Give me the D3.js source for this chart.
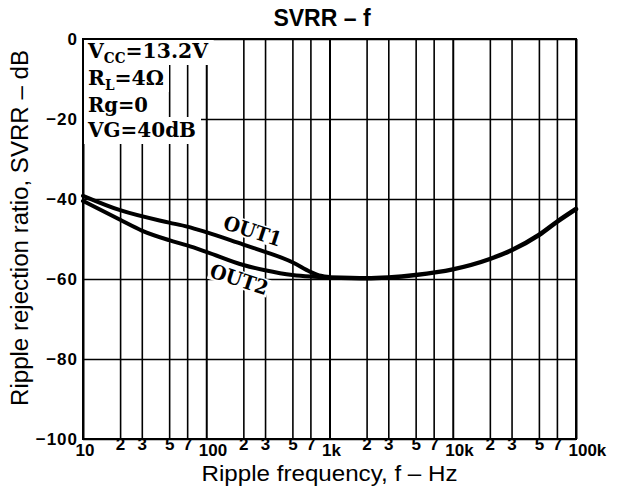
<!DOCTYPE html>
<html>
<head>
<meta charset="utf-8">
<script src="https://cdn.jsdelivr.net/npm/d3@7"></script>
<style>
body { margin: 0; background: #fff; }
svg { display: block; }
text { font-family: "Liberation Sans", Arial, Helvetica, sans-serif; fill: #000; }
.serif { font-family: "DejaVu Serif", "Liberation Serif", serif; font-weight: bold; }
</style>
</head>
<body>
<script>
// curves (Hz, dB)
var freqOut1 = [10, 20, 50, 70, 100, 200, 300, 500, 700, 850, 1000];
var svrrOut1 = [-39.2, -42.8, -45.9, -46.9, -48.3, -51.4, -53.2, -55.8, -58.2, -59.2, -59.5];
var freqOut2 = [10, 20, 30, 50, 70, 100, 200, 300, 500, 700, 1000];
var svrrOut2 = [-40.5, -45.2, -47.9, -50.3, -51.6, -53.2, -56.5, -57.8, -59, -59.4, -59.6];
var freqBoth = [1000, 2000, 3000, 5000, 10000, 20000, 30000, 50000, 70000, 100000];
var svrrBoth = [-59.6, -59.8, -59.6, -59, -57.6, -55, -52.8, -49, -45.7, -42.5];

var Y_TICKS = [0, -20, -40, -60, -80, -100];
var DECADES = [10, 100, 1000, 10000, 100000];
var DECADE_LABELS = ["10", "100", "1k", "10k", "100k"];
var MINOR = [2, 3, 5, 7];

var CONDITIONS = [
  { main: "V", sub: "CC", rest: "=13.2V" },
  { main: "R", sub: "L", rest: "=4Ω" },
  { main: "Rg=0", sub: "", rest: "" },
  { main: "VG=40dB", sub: "", rest: "" }
];
var CURVE_LABELS = ["OUT1", "OUT2"];

var margin = { top: 39, right: 42, bottom: 50, left: 83 };
var W = 618, H = 489;
var width = W - margin.left - margin.right;
var height = H - margin.top - margin.bottom;

var svg = d3.select("body").append("svg").attr("width", W).attr("height", H);
var g = svg.append("g").attr("transform", "translate(" + margin.left + "," + margin.top + ")");

var x = d3.scaleLog().domain([10, 100000]).range([0, width]);
var y = d3.scaleLinear().domain([-100, 0]).range([height, 0]);

// all vertical grid positions: decades plus 2,3,5,7 of each decade
var xTicks = [];
DECADES.forEach(function (d, i) {
  xTicks.push(d);
  if (i < DECADES.length - 1) MINOR.forEach(function (m) { xTicks.push(d * m); });
});

var xAxis = g.append("g").attr("transform", "translate(0," + height + ")")
  .call(d3.axisBottom(x).tickValues(xTicks).tickSize(-height).tickPadding(4).tickFormat(function (d) {
    var i = DECADES.indexOf(d);
    if (i >= 0) return DECADE_LABELS[i];
    return String(Math.round(d / Math.pow(10, Math.floor(Math.log10(d) + 1e-9))));
  }));
xAxis.select(".domain").remove();
xAxis.selectAll(".tick line").attr("stroke", "#000").attr("stroke-width", function (d) {
  return DECADES.indexOf(d) >= 0 ? 2 : 1.6;
});
xAxis.selectAll(".tick text").attr("font-size", 17).attr("font-weight", "bold").attr("fill", "#000")
  .each(function (d) {
    var t = d3.select(this);
    if (DECADES.indexOf(d) >= 0) {
      t.attr("text-anchor", "start").attr("x", -8).attr("y", 5).attr("dy", "0.71em");
    } else {
      t.attr("y", -1).attr("dy", "0.71em");
    }
  });

var yAxis = g.append("g")
  .call(d3.axisLeft(y).tickValues(Y_TICKS).tickSize(-width).tickPadding(5).tickFormat(function (d) {
    return d === 0 ? "0" : "−" + Math.abs(d);
  }));
yAxis.select(".domain").remove();
yAxis.selectAll(".tick line").attr("stroke", "#000").attr("stroke-width", 1.6);
yAxis.selectAll(".tick text").attr("font-size", 17).attr("font-weight", "bold").attr("fill", "#000")
  .attr("letter-spacing", 1);

g.append("rect").attr("width", width).attr("height", height)
  .attr("fill", "none").attr("stroke", "#000").attr("stroke-width", 2);

// conditions block, white behind each line
var cond = g.append("g").attr("class", "cond");
var condBase = [19, 46, 73, 98];
var condLen = [120, 76, 60, 108];
var condBoxes = [];
CONDITIONS.forEach(function (c, i) {
  var row = cond.append("g");
  var t = row.append("text").attr("class", "serif").attr("x", 5).attr("y", condBase[i]).attr("font-size", 21);
  t.append("tspan").text(c.main);
  if (c.sub) {
    t.append("tspan").attr("font-size", 14).attr("dy", 5).text(c.sub);
    t.append("tspan").attr("dy", -5).text(c.rest);
  }
  t.attr("textLength", condLen[i]).attr("lengthAdjust", "spacingAndGlyphs");
  condBoxes.push({ row: row, b: t.node().getBBox() });
});
condBoxes.forEach(function (o, i) {
  var top = i === 0 ? 1 : o.b.y;
  var bottom = i < condBoxes.length - 1 ? condBoxes[i + 1].b.y : o.b.y + o.b.height + 2;
  o.row.insert("rect", "text").attr("x", 1).attr("y", top)
    .attr("width", o.b.x + o.b.width + 4).attr("height", bottom - top).attr("fill", "#fff");
});

// label backgrounds go under the curves, label text above them
var labelBg = g.append("g");

var line = d3.line()
  .x(function (d) { return x(d[0]); })
  .y(function (d) { return y(d[1]); })
  .curve(d3.curveMonotoneX);

function pairs(fs, vs) { return fs.map(function (f, i) { return [f, vs[i]]; }); }

var curves = g.append("g").attr("fill", "none").attr("stroke", "#000").attr("stroke-linecap", "round");
curves.append("path").attr("d", line(pairs(freqOut1, svrrOut1))).attr("stroke-width", 4);
curves.append("path").attr("d", line(pairs(freqOut2, svrrOut2))).attr("stroke-width", 4);
curves.append("path").attr("d", line(pairs(freqBoth, svrrBoth))).attr("stroke-width", 4.5);

var labelPos = [[238, -48.0], [185, -60.1]];
CURVE_LABELS.forEach(function (name, i) {
  var tr = "translate(" + x(labelPos[i][0]) + "," + y(labelPos[i][1]) + ") rotate(18)";
  var t = g.append("text").attr("class", "serif").attr("transform", tr)
    .attr("text-anchor", "middle").attr("dy", "0.35em")
    .attr("font-size", 20).attr("textLength", 60).attr("lengthAdjust", "spacingAndGlyphs").text(name);
  var b = t.node().getBBox();
  labelBg.append("rect").attr("transform", tr).attr("x", b.x - 1).attr("y", b.y + 3)
    .attr("width", b.width + 2).attr("height", b.height - 6).attr("fill", "#fff");
});

svg.append("text").attr("x", 322).attr("y", 26).attr("text-anchor", "middle")
  .attr("font-size", 23).attr("font-weight", "bold").text("SVRR – f");

svg.append("text").attr("x", margin.left + width / 2).attr("y", 481).attr("text-anchor", "middle")
  .attr("font-size", 22).attr("textLength", 256).attr("lengthAdjust", "spacingAndGlyphs")
  .text("Ripple frequency, f – Hz");

svg.append("text").attr("transform", "translate(28,228) rotate(-90)").attr("text-anchor", "middle")
  .attr("font-size", 23).attr("textLength", 356).attr("lengthAdjust", "spacingAndGlyphs")
  .text("Ripple rejection ratio, SVRR – dB");
</script>
</body>
</html>
